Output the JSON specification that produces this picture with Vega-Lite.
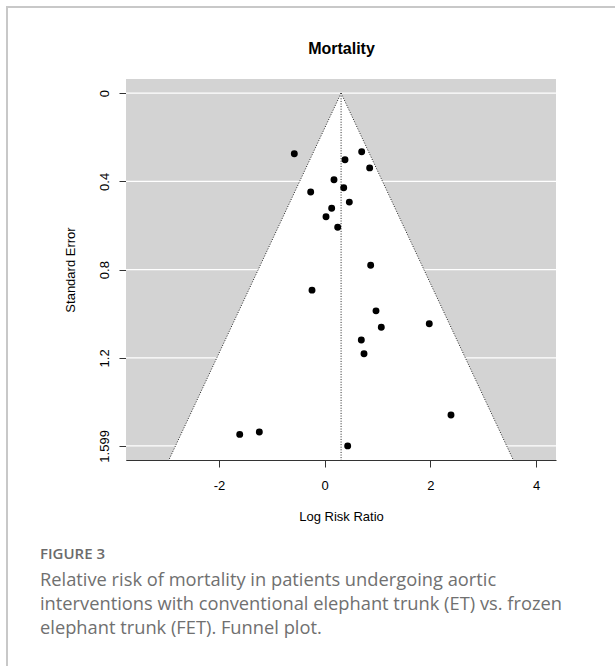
{
  "$schema": "https://vega.github.io/schema/vega-lite/v6.json",
  "width": 610,
  "height": 661,
  "autosize": {"type": "none"},
  "padding": {"left": 7, "top": 7, "right": -2, "bottom": -2},
  "background": "white",
  "config": {
    "view": {"stroke": "#c8c8c8", "strokeWidth": 2},
    "font": "Liberation Sans",
    "axis": {
      "labelFont": "Liberation Sans",
      "titleFont": "Liberation Sans",
      "labelColor": "#000",
      "titleColor": "#000",
      "domainColor": "#333",
      "tickColor": "#333",
      "titleFontWeight": "normal",
      "labelFontSize": 13,
      "titleFontSize": 13,
      "grid": false,
      "labelFlush": false,
      "labelOverlap": false
    }
  },
  "title": {
    "text": "FIGURE 3",
    "subtitle": [
      "Relative risk of mortality in patients undergoing aortic",
      "interventions with conventional elephant trunk (ET) vs. frozen",
      "elephant trunk (FET). Funnel plot."
    ],
    "orient": "bottom",
    "anchor": "start",
    "frame": "group",
    "align": "left",
    "offset": 0,
    "dx": 33,
    "dy": -121,
    "font": "Open Sans",
    "fontSize": 15,
    "fontWeight": 600,
    "color": "#6b6b6b",
    "subtitleFont": "Open Sans",
    "subtitleFontSize": 18.3,
    "subtitleFontWeight": "normal",
    "subtitleColor": "#707070",
    "subtitleLineHeight": 24,
    "subtitlePadding": 9.5
  },
  "datasets": {
    "studies": [
      {"yi": -0.575, "sei": 0.275},
      {"yi": 0.700, "sei": 0.266},
      {"yi": 0.384, "sei": 0.302},
      {"yi": 0.851, "sei": 0.339},
      {"yi": 0.176, "sei": 0.393},
      {"yi": 0.360, "sei": 0.429},
      {"yi": -0.265, "sei": 0.448},
      {"yi": 0.466, "sei": 0.494},
      {"yi": 0.132, "sei": 0.522},
      {"yi": 0.025, "sei": 0.560},
      {"yi": 0.246, "sei": 0.608},
      {"yi": 0.870, "sei": 0.780},
      {"yi": -0.240, "sei": 0.893},
      {"yi": 0.971, "sei": 0.987},
      {"yi": 1.071, "sei": 1.061},
      {"yi": 1.979, "sei": 1.045},
      {"yi": 0.693, "sei": 1.119},
      {"yi": 0.744, "sei": 1.181},
      {"yi": 2.390, "sei": 1.459},
      {"yi": -1.237, "sei": 1.536},
      {"yi": 0.435, "sei": 1.599},
      {"yi": -1.608, "sei": 1.547}
    ],
    "limits": [{"xmin": -3.76, "xmax": 4.377, "semin": -0.064, "semax": 1.663}],
    "gridlines": [{"se": 0}, {"se": 0.4}, {"se": 0.8}, {"se": 1.2}, {"se": 1.599}],
    "funnel": [
      {"se": 0, "lo": 0.31, "hi": 0.31},
      {"se": 1.663, "lo": -2.949, "hi": 3.569}
    ],
    "edges": [
      {"x": 0.31, "se": 0, "xend": -2.949, "seend": 1.663},
      {"x": 0.31, "se": 0, "xend": 3.569, "seend": 1.663},
      {"x": 0.31, "se": 0, "xend": 0.31, "seend": 1.663}
    ]
  },
  "layer": [
    {
      "data": {"name": "limits"},
      "mark": {"type": "rect", "fill": "#d3d3d3", "strokeWidth": 0},
      "encoding": {
        "x": {
          "field": "xmin", "type": "quantitative",
          "scale": {"domain": [-3.76, 4.377], "range": [119, 549], "nice": false, "zero": false},
          "axis": {
            "orient": "bottom", "offset": -208, "values": [-2, 0, 2, 4],
            "labelExpr": "'' + datum.value",
            "title": "Log Risk Ratio", "tickSize": 7, "labelPadding": 12, "titlePadding": 18
          }
        },
        "x2": {"field": "xmax"},
        "y": {
          "field": "semin", "type": "quantitative",
          "scale": {"domain": [-0.064, 1.663], "range": [72, 453], "nice": false, "zero": false},
          "axis": {
            "orient": "left", "offset": -119, "values": [0, 0.4, 0.8, 1.2, 1.599],
            "labelExpr": "'' + datum.value", "title": "Standard Error", "tickSize": 7,
            "labelAngle": -90, "labelAlign": "center", "labelBaseline": "bottom",
            "labelPadding": 8, "titlePadding": 21
          }
        },
        "y2": {"field": "semax"}
      }
    },
    {
      "data": {"name": "gridlines"},
      "mark": {"type": "rule", "color": "white", "strokeWidth": 1.2},
      "encoding": {
        "x": {"datum": -3.76, "type": "quantitative", "scale": {"domain": [-3.76, 4.377], "range": [119, 549], "nice": false, "zero": false}, "axis": null},
        "x2": {"datum": 4.377},
        "y": {"field": "se", "type": "quantitative", "scale": {"domain": [-0.064, 1.663], "range": [72, 453], "nice": false, "zero": false}, "axis": null}
      }
    },
    {
      "data": {"name": "funnel"},
      "mark": {"type": "area", "orient": "horizontal", "fill": "white", "opacity": 1},
      "encoding": {
        "y": {"field": "se", "type": "quantitative", "scale": {"domain": [-0.064, 1.663], "range": [72, 453], "nice": false, "zero": false}, "axis": null},
        "x": {
          "field": "lo", "type": "quantitative",
          "scale": {"domain": [-3.76, 4.377], "range": [119, 549], "nice": false, "zero": false},
          "axis": {
            "orient": "top", "offset": -72, "domain": false, "ticks": false, "labels": false,
            "title": "Mortality", "titleFontSize": 16, "titleFontWeight": "bold",
            "titleBaseline": "alphabetic", "titlePadding": 26
          }
        },
        "x2": {"field": "hi"}
      }
    },
    {
      "data": {"name": "edges"},
      "mark": {"type": "rule", "color": "#222", "strokeWidth": 1, "strokeDash": [1, 1.6]},
      "encoding": {
        "x": {"field": "x", "type": "quantitative", "scale": {"domain": [-3.76, 4.377], "range": [119, 549], "nice": false, "zero": false}, "axis": null},
        "x2": {"field": "xend"},
        "y": {"field": "se", "type": "quantitative", "scale": {"domain": [-0.064, 1.663], "range": [72, 453], "nice": false, "zero": false}, "axis": null},
        "y2": {"field": "seend"}
      }
    },
    {
      "data": {"name": "studies"},
      "mark": {"type": "circle", "size": 48, "color": "#000", "opacity": 1},
      "encoding": {
        "x": {"field": "yi", "type": "quantitative", "scale": {"domain": [-3.76, 4.377], "range": [119, 549], "nice": false, "zero": false}, "axis": null},
        "y": {"field": "sei", "type": "quantitative", "scale": {"domain": [-0.064, 1.663], "range": [72, 453], "nice": false, "zero": false}, "axis": null}
      }
    }
  ],
  "resolve": {"axis": {"x": "independent", "y": "independent"}}
}
